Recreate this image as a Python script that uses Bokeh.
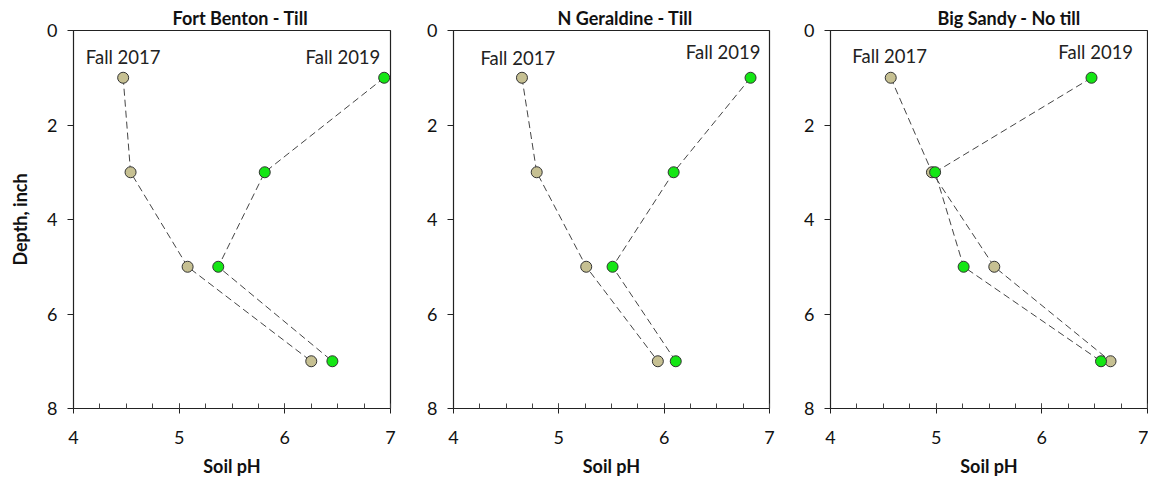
from bokeh.plotting import figure
from bokeh.layouts import row
from bokeh.models import Range1d, FixedTicker, Label
from bokeh.embed import file_html
from bokeh.resources import INLINE

depth = [1, 3, 5, 7]
titles = ["Fort Benton - Till", "N Geraldine - Till", "Big Sandy - No till"]
ph_2017 = [
    [4.47, 4.54, 5.08, 6.25],
    [4.65, 4.79, 5.26, 5.94],
    [4.57, 4.96, 5.55, 6.65],
]
ph_2019 = [
    [6.94, 5.81, 5.37, 6.45],
    [6.82, 6.09, 5.51, 6.11],
    [6.47, 4.99, 5.26, 6.56],
]
label_2017 = ["Fall 2017", "Fall 2017", "Fall 2017"]
label_2019 = ["Fall 2019", "Fall 2019", "Fall 2019"]
lab17_pos = [(4.47, 0.57), (4.61, 0.59), (4.56, 0.55)]
lab19_pos = [(6.55, 0.57), (6.56, 0.45), (6.51, 0.45)]

FONT = "Lato"
TAN = "#c6c092"
GREEN = "#14e614"

specs = [
    dict(width=400, left=73, right=10, toff=99),
    dict(width=380, left=53, right=11, toff=104),
    dict(width=368, left=50, right=1, toff=107),
]

figs = []
for i in range(3):
    s = specs[i]
    p = figure(width=s["width"], height=475, output_backend="svg", toolbar_location=None,
               x_range=Range1d(4, 7), y_range=Range1d(8, 0),
               min_border_left=s["left"], min_border_right=s["right"],
               min_border_top=30, min_border_bottom=10)
    p.frame_width = s["width"] - s["left"] - s["right"]
    p.frame_height = 378
    p.title.text = titles[i]
    p.title.align = "left"
    p.title.offset = s["toff"]
    p.title.text_font = FONT
    p.title.text_font_size = "18px"
    p.title.text_font_style = "bold"
    p.title.text_color = "#111111"
    p.title.standoff = 3
    p.xgrid.visible = False
    p.ygrid.visible = False
    p.outline_line_color = "#222222"
    p.outline_line_width = 1.2
    p.background_fill_color = "white"
    p.border_fill_color = "white"

    xa = p.xaxis[0]
    xa.ticker = FixedTicker(ticks=[4, 5, 6, 7], minor_ticks=[4 + 0.25 * k for k in range(13)])
    xa.axis_label = "Soil pH"
    xa.axis_label_text_font = FONT
    xa.axis_label_text_font_size = "18px"
    xa.axis_label_text_font_style = "bold"
    xa.axis_label_text_color = "#111111"
    xa.axis_label_standoff = 8
    xa.major_label_text_font = FONT
    xa.major_label_text_font_size = "18px"
    xa.major_label_text_color = "#111111"
    xa.major_label_standoff = 17
    xa.major_tick_in = 5
    xa.major_tick_out = 5
    xa.minor_tick_in = 5
    xa.minor_tick_out = 0
    xa.axis_line_color = "#222222"
    xa.major_tick_line_color = "#222222"
    xa.minor_tick_line_color = "#444444"

    ya = p.yaxis[0]
    ya.ticker = FixedTicker(ticks=[0, 2, 4, 6, 8], minor_ticks=[])
    if i == 0:
        ya.axis_label = "Depth, inch"
        ya.axis_label_text_font = FONT
        ya.axis_label_text_font_size = "18px"
        ya.axis_label_text_font_style = "bold"
        ya.axis_label_text_color = "#111111"
        ya.axis_label_standoff = 13
    ya.major_label_text_font = FONT
    ya.major_label_text_font_size = "18px"
    ya.major_label_text_color = "#111111"
    ya.major_label_standoff = 10
    ya.major_label_orientation = "horizontal"
    ya.major_tick_in = 0
    ya.major_tick_out = 6
    ya.minor_tick_line_color = None
    ya.axis_line_color = "#222222"
    ya.major_tick_line_color = "#222222"

    p.line(ph_2017[i], depth, line_color="#444444", line_width=1, line_dash="7 4")
    p.line(ph_2019[i], depth, line_color="#444444", line_width=1, line_dash="7 4")
    p.scatter(ph_2017[i], depth, size=11, fill_color=TAN, line_color="#333333", line_width=1)
    p.scatter(ph_2019[i], depth, size=11, fill_color=GREEN, line_color="#333333", line_width=1)

    for txt, (lx, ly) in ((label_2017[i], lab17_pos[i]), (label_2019[i], lab19_pos[i])):
        p.add_layout(Label(x=lx, y=ly, text=txt, text_align="center", text_baseline="middle",
                           text_font=FONT, text_font_size="18.5px", text_color="#222222"))
    figs.append(p)

layout = row(*figs, spacing=0)
open("out.html", "w").write(file_html(layout, INLINE))
